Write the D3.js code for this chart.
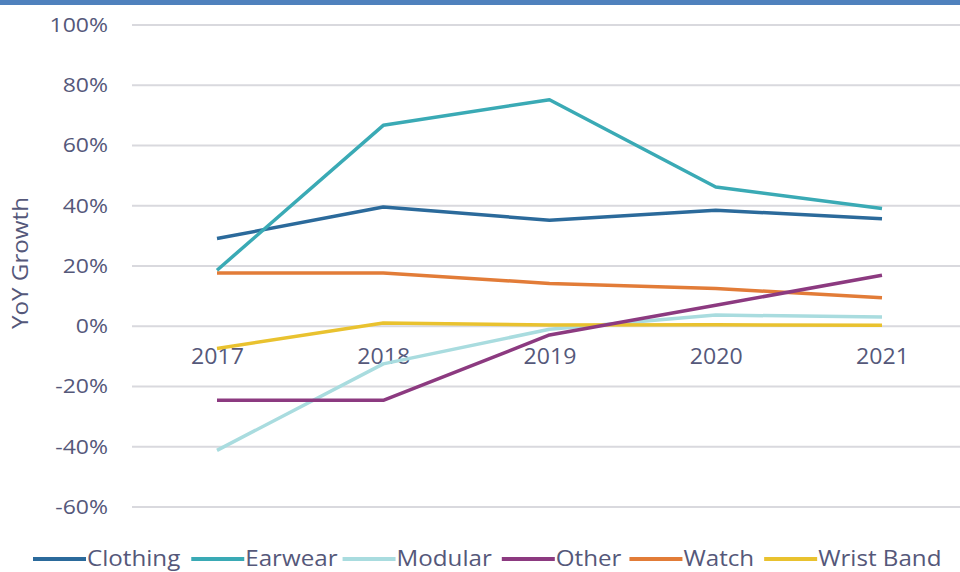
<!DOCTYPE html>
<html>
<head>
<meta charset="utf-8">
<script src="https://cdn.jsdelivr.net/npm/d3@7"></script>
<style>
  html, body { margin: 0; padding: 0; background: #fff; }
  svg { display: block; font-family: "Open Sans", sans-serif; }
</style>
</head>
<body>
<svg id="chart" width="960" height="572"></svg>
<script>
const years = ['2017', '2018', '2019', '2020', '2021'];
const yTicks = [-60, -40, -20, 0, 20, 40, 60, 80, 100];

const clothing  = [29.1, 39.6, 35.2, 38.5, 35.7];
const earwear   = [18.6, 66.7, 75.2, 46.2, 39.1];
const modular   = [-41.2, -12.5, -1.0, 3.7, 3.1];
const other     = [-24.6, -24.6, -2.9, 7.0, 16.9];
const watch     = [17.7, 17.7, 14.2, 12.5, 9.5];
const wristBand = [-7.4, 1.1, 0.4, 0.5, 0.3];

const seriesNames = ['Clothing', 'Earwear', 'Modular', 'Other', 'Watch', 'Wrist Band'];
const seriesValues = [clothing, earwear, modular, other, watch, wristBand];
const colors = ['#2b6a9b', '#3aaab5', '#a9dcdf', '#8c3a80', '#e27c38', '#e9c22f'];

const svg = d3.select('#chart');
const W = 960, H = 572;
const textColor = '#55587a';
const stretch = 1.15; // source picture is a bit wider than tall

function widen(sel, k) {
    sel.each(function () {
        const w = this.getComputedTextLength();
        d3.select(this).attr('textLength', w * k).attr('lengthAdjust', 'spacingAndGlyphs');
    });
}

// top band
svg.append('rect').attr('x', 0).attr('y', 0).attr('width', W).attr('height', 5).attr('fill', '#4f81bd');

const x = d3.scalePoint().domain(years).range([217, 882]);
const y = d3.scaleLinear().domain([-60, 100]).range([507, 25]);

// grid
svg.append('g')
    .selectAll('line')
    .data(yTicks)
    .join('line')
    .attr('x1', 132).attr('x2', W)
    .attr('y1', d => y(d)).attr('y2', d => y(d))
    .attr('stroke', '#d9d9de')
    .attr('stroke-width', 2);

// y axis labels
const yAxis = d3.axisLeft(y).tickValues(yTicks).tickSize(0).tickFormat(d => d + '%');
const yg = svg.append('g').attr('transform', 'translate(108,0)').call(yAxis);
yg.select('.domain').remove();
yg.selectAll('text')
    .attr('x', 0)
    .attr('font-family', '"Open Sans", sans-serif')
    .attr('font-size', 20)
    .attr('fill', textColor)
    .call(widen, stretch);

// y title
svg.append('text')
    .attr('transform', 'translate(28,263) rotate(-90)')
    .attr('text-anchor', 'middle')
    .attr('font-size', 21)
    .attr('fill', textColor)
    .text('YoY Growth')
    .call(widen, stretch);

// x labels sit inside plot near -10%
const xAxis = d3.axisBottom(x).tickSize(0);
const xg = svg.append('g').attr('transform', 'translate(0,' + y(-7.5) + ')').call(xAxis);
xg.select('.domain').remove();
xg.selectAll('text')
    .attr('y', 0)
    .attr('dy', '0.71em')
    .attr('font-family', '"Open Sans", sans-serif')
    .attr('font-size', 21)
    .attr('fill', textColor)
    .call(widen, 1.1);

// lines
const line = d3.line()
    .x((d, i) => x(years[i]))
    .y(d => y(d));

const drawOrder = [2, 5, 4, 3, 0, 1];
svg.append('g')
    .attr('fill', 'none')
    .attr('stroke-width', 3.5)
    .attr('stroke-linejoin', 'round')
    .selectAll('path')
    .data(drawOrder)
    .join('path')
    .attr('stroke', i => colors[i])
    .attr('d', i => line(seriesValues[i]));

// legend
const legend = svg.append('g').attr('font-size', 21);
let lx = 33;
const ly = 559;
const gaps = [11, 5, 10, 8, 10, 0];
seriesNames.forEach((name, i) => {
    legend.append('line')
        .attr('x1', lx).attr('x2', lx + 53)
        .attr('y1', ly).attr('y2', ly)
        .attr('stroke', colors[i])
        .attr('stroke-width', 4);
    const t = legend.append('text')
        .attr('x', lx + 54)
        .attr('y', ly)
        .attr('dy', '0.35em')
        .attr('fill', textColor)
        .text(name);
    const w = t.node().getComputedTextLength() * stretch;
    t.attr('textLength', w).attr('lengthAdjust', 'spacingAndGlyphs');
    lx = lx + 54 + w + gaps[i];
});
</script>
</body>
</html>
